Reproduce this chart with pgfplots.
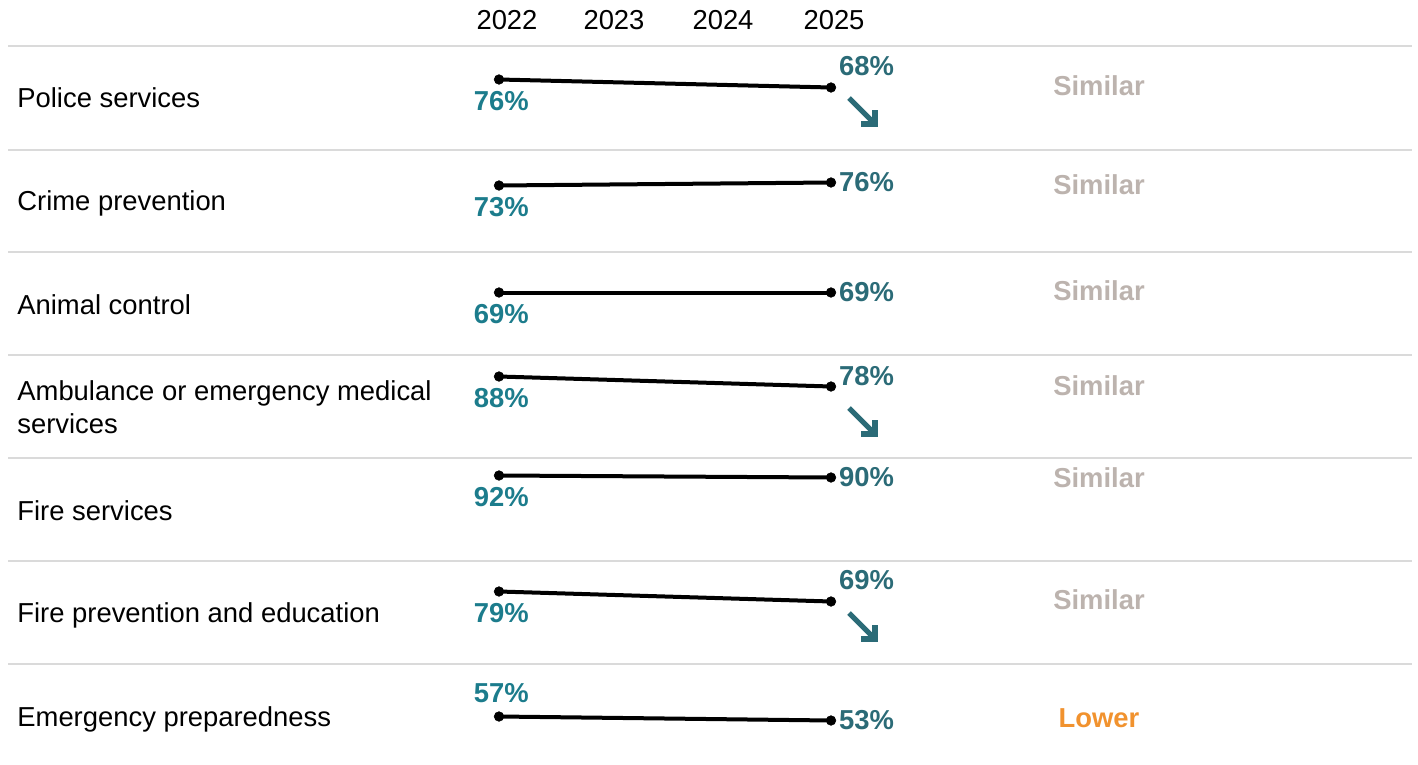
\documentclass[border=0pt]{standalone}
\usepackage{pgfplots}
\pgfplotsset{compat=1.18}
\usepackage{fontspec}
\setmainfont{Liberation Sans}
\definecolor{tealA}{HTML}{1C7C8C}
\definecolor{tealB}{HTML}{2B6B77}
\definecolor{simgray}{HTML}{BCB3AE}
\definecolor{lowor}{HTML}{F1922E}
\definecolor{sepgray}{HTML}{DADADA}
\newcommand{\lab}{\fontsize{13.7}{16.5}\selectfont}

\pgfplotsset{
  pctlabel/.style={draw=none, mark=none, point meta=explicit symbolic,
    nodes near coords={\pgfplotspointmeta\%},
    every node near coord/.append style={anchor=center, inner sep=0pt,
      font=\lab\bfseries}},
}
% #1 row index, #2 value 2022, #3 value 2025, #4 shift of 2022 label (px, up), #5 shift of 2025 label (px, up)
\newcommand{\slopeRow}[5]{%
  \addplot[black, line width=2pt, mark=*, mark size=2.4pt,
    mark options={line width=0.3pt, fill=black}]
    table[row sep=\\, x expr={499+(\thisrow{year}-2022)*332/3},
          y expr={155.5+103*#1-\thisrow{v}}] {year v\\ 2022 #2\\ 2025 #3\\};
  \addplot[pctlabel, every node near coord/.append style={text=tealA, xshift=1.2pt, yshift=#4*0.5pt}]
    table[row sep=\\, x expr={499+(\thisrow{year}-2022)*332/3},
          y expr={155.5+103*#1-\thisrow{v}}, meta=v] {year v\\ 2022 #2\\};
  \addplot[pctlabel, every node near coord/.append style={text=tealB, xshift=17.8pt, yshift=#5*0.5pt}]
    table[row sep=\\, x expr={499+(\thisrow{year}-2022)*332/3},
          y expr={155.5+103*#1-\thisrow{v}}, meta=v] {year v\\ 2025 #3\\};
}

\begin{document}
\begin{tikzpicture}
\begin{axis}[
  width=709pt, height=382.5pt, scale only axis,
  xmin=0, xmax=1418, ymin=0, ymax=765, y dir=reverse,
  hide axis, clip=false,
]
\path (axis cs:0,0) rectangle (axis cs:1418,765);
\pgfplotsinvokeforeach{46,150,252,355,458,561,664}{
  \draw[sepgray, line width=0.6pt] (axis cs:8,#1) -- (axis cs:1412,#1);
}
% year headers
\node[font=\lab] at (axis cs:507,20) {2022};
\node[font=\lab] at (axis cs:614,20) {2023};
\node[font=\lab] at (axis cs:723,20) {2024};
\node[font=\lab] at (axis cs:834,20) {2025};

\slopeRow{0}{76}{68}{-21.5}{21.5}
\slopeRow{1}{73}{76}{-21.5}{0}
\slopeRow{2}{69}{69}{-21.5}{0}
\slopeRow{3}{88}{78}{-21.5}{10.5}
\slopeRow{4}{92}{90}{-21.5}{0}
\slopeRow{5}{79}{69}{-21.5}{21.5}
\slopeRow{6}{57}{53}{23.5}{0}

% decrease arrows
\draw[tealB, line width=2.6pt] (axis cs:849,98) -- (axis cs:874,123);
\draw[tealB, line width=2.6pt, line join=miter] (axis cs:861,124) -- (axis cs:875,124) -- (axis cs:875,110);
\draw[tealB, line width=2.6pt] (axis cs:849,408) -- (axis cs:874,433);
\draw[tealB, line width=2.6pt, line join=miter] (axis cs:861,434) -- (axis cs:875,434) -- (axis cs:875,420);
\draw[tealB, line width=2.6pt] (axis cs:849,613) -- (axis cs:874,638);
\draw[tealB, line width=2.6pt, line join=miter] (axis cs:861,639) -- (axis cs:875,639) -- (axis cs:875,625);

% row labels
\node[anchor=base west, inner sep=0pt, font=\lab] at (axis cs:17,108) {Police services};
\node[anchor=base west, inner sep=0pt, font=\lab] at (axis cs:17,210) {Crime prevention};
\node[anchor=base west, inner sep=0pt, font=\lab] at (axis cs:17,314) {Animal control};
\node[anchor=west, inner sep=0pt, font=\lab, align=left] at (axis cs:17,407) {Ambulance or emergency medical\\services};
\node[anchor=base west, inner sep=0pt, font=\lab] at (axis cs:17,520) {Fire services};
\node[anchor=base west, inner sep=0pt, font=\lab] at (axis cs:17,622) {Fire prevention and education};
\node[anchor=base west, inner sep=0pt, font=\lab] at (axis cs:17,726) {Emergency preparedness};

% comparison column
\node[font=\lab\bfseries, text=simgray] at (axis cs:1099,86) {Similar};
\node[font=\lab\bfseries, text=simgray] at (axis cs:1099,185) {Similar};
\node[font=\lab\bfseries, text=simgray] at (axis cs:1099,291) {Similar};
\node[font=\lab\bfseries, text=simgray] at (axis cs:1099,386) {Similar};
\node[font=\lab\bfseries, text=simgray] at (axis cs:1099,478) {Similar};
\node[font=\lab\bfseries, text=simgray] at (axis cs:1099,600) {Similar};
\node[font=\lab\bfseries, text=lowor] at (axis cs:1099,718) {Lower};
\end{axis}
\end{tikzpicture}
\end{document}
